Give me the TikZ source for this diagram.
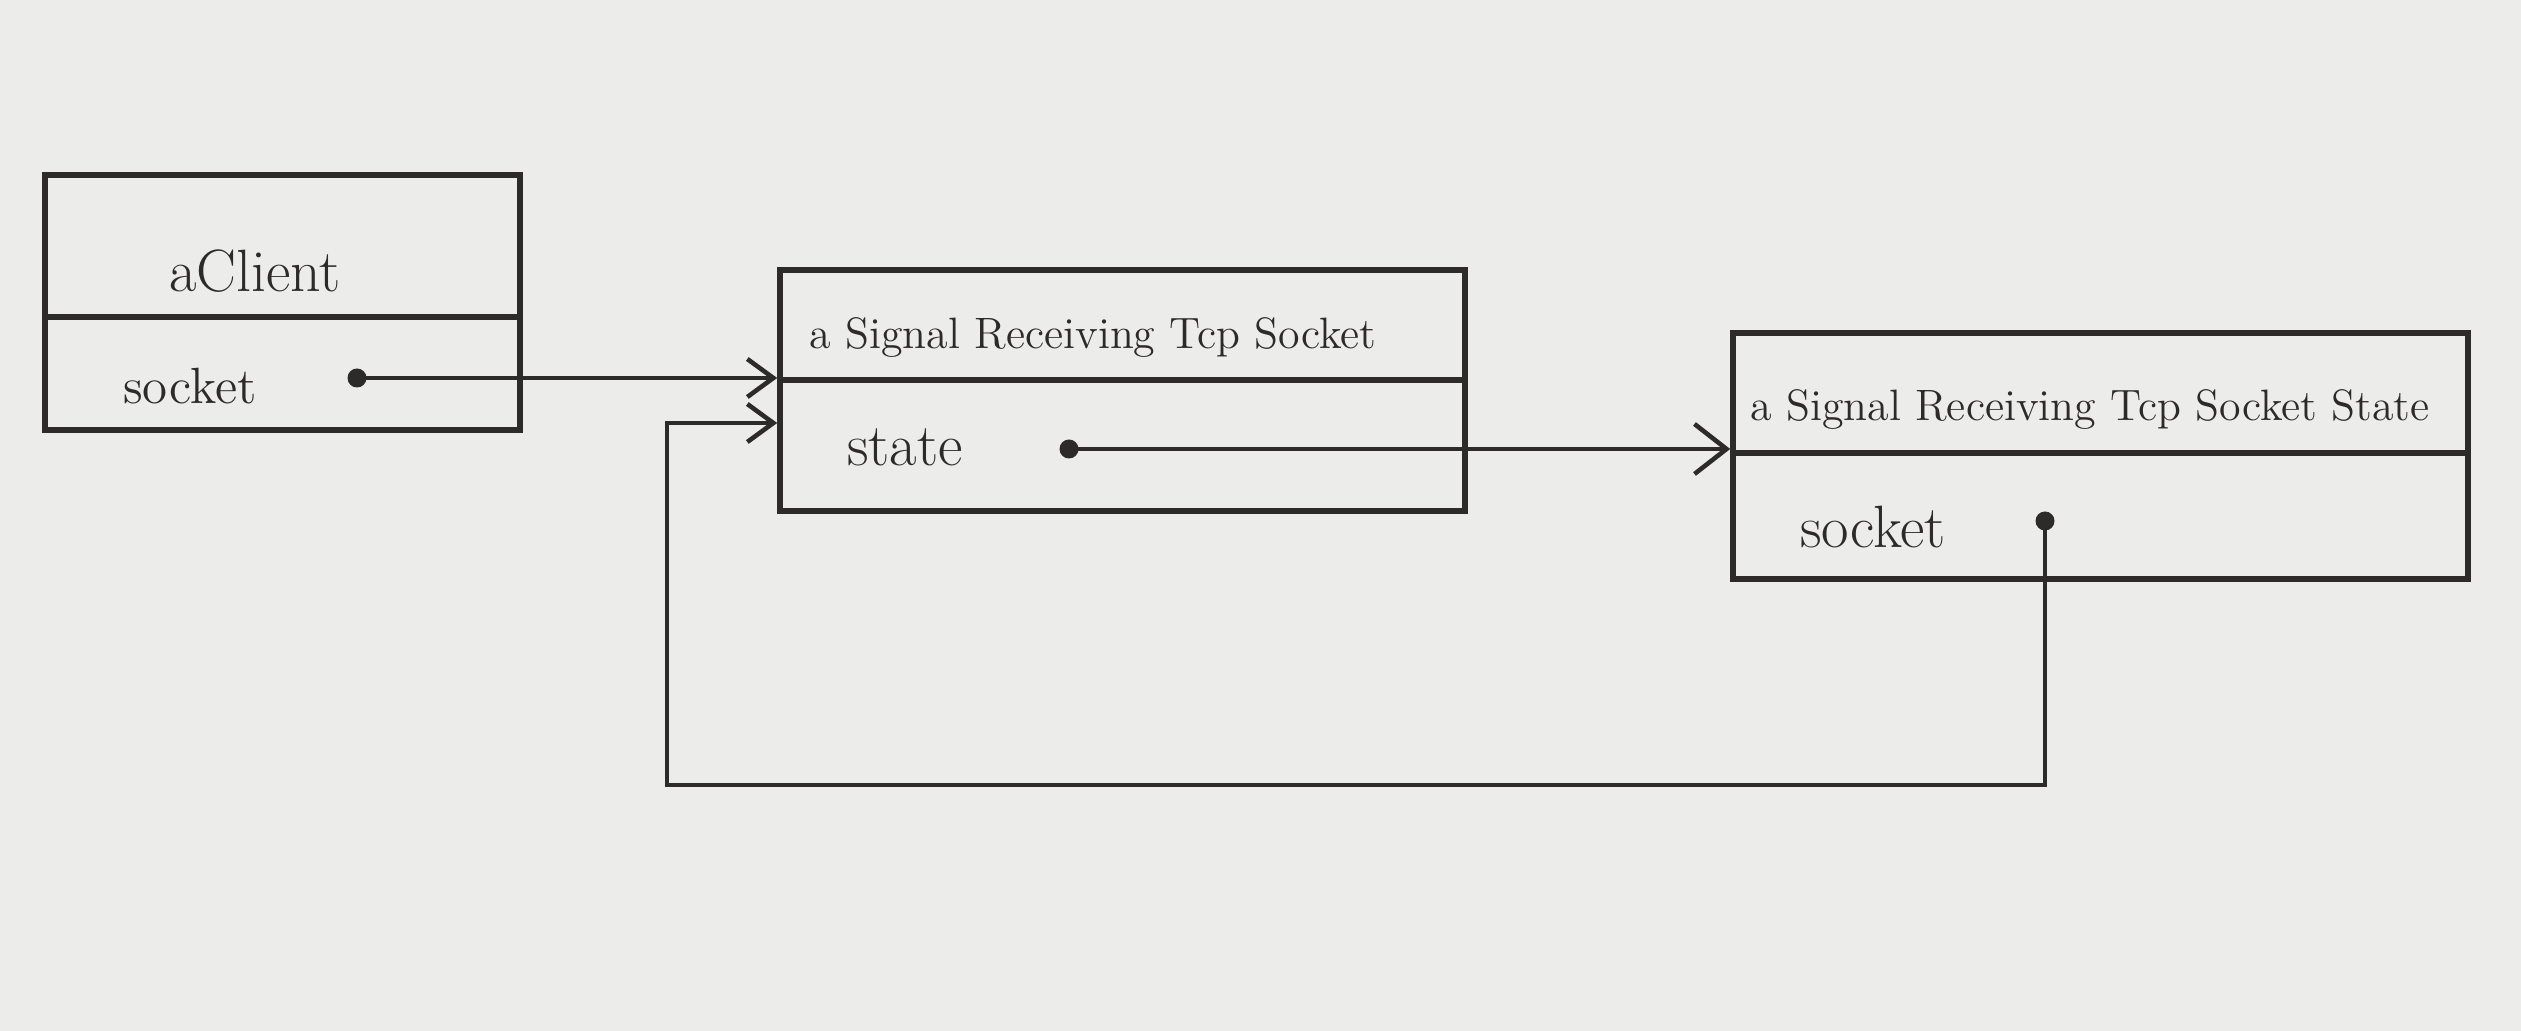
\documentclass[tikz,border=0pt]{standalone}
\usetikzlibrary{arrows.meta}
\definecolor{paper}{RGB}{236,236,234}
\definecolor{ink}{RGB}{45,42,42}
\tikzset{
 objbox/.style={draw=ink,line width=1.6pt,inner sep=0pt},
 divline/.style={draw=ink,line width=1.6pt},
 slot/.style={circle,fill=ink,inner sep=0pt,minimum size=1.9mm},
 ref/.style={draw=ink,line width=1.3pt,-{Straight Barb[length=2.6mm,width=3.8mm,line width=1.3pt]}},
 bigtext/.style={text=ink,font=\fontsize{17}{20}\selectfont},
 smalltext/.style={text=ink,font=\fontsize{12.5}{15}\selectfont}
}
\begin{document}
\begin{tikzpicture}
 \fill[paper] (0,0) rectangle (25.21,10.31);
 \useasboundingbox (0,0) rectangle (25.21,10.31);
 \node[objbox,minimum width=4.75cm,minimum height=2.55cm] (client) at (2.825,7.285) {};
 \node[objbox,minimum width=6.85cm,minimum height=2.41cm] (sock) at (11.225,6.405) {};
 \node[objbox,minimum width=7.35cm,minimum height=2.46cm] (state) at (21.005,5.75) {};
 \draw[divline] ([yshift=-1.45cm]client.north west) -- ([yshift=-1.45cm]client.north east);
 \draw[divline] ([yshift=-1.13cm]sock.north west) -- ([yshift=-1.13cm]sock.north east);
 \draw[divline] ([yshift=-1.23cm]state.north west) -- ([yshift=-1.23cm]state.north east);
 \node[bigtext] (clientname) at (2.55,7.6) {aClient};
 \node[bigtext,font=\fontsize{14.5}{17}\selectfont] (clientfield) at (1.9,6.45) {socket};
 \node[slot] (clientdot) at (3.57,6.53) {};
 \node[smalltext] (sockname) at (10.93,6.93) {a Signal Receiving Tcp Socket};
 \node[bigtext] (sockfield) at (9.05,5.84) {state};
 \node[slot] (sockdot) at (10.69,5.82) {};
 \node[smalltext] (statename) at (20.9,6.21) {a Signal Receiving Tcp Socket State};
 \node[bigtext] (statefield) at (18.73,5.04) {socket};
 \node[slot] (statedot) at (20.45,5.10) {};
 \draw[ref] (clientdot.center) -- (clientdot -| sock.west);
 \draw[ref,-{Straight Barb[length=3.2mm,width=5mm,line width=1.3pt]}] (sockdot.center) -- (sockdot -| state.west);
 \coordinate (loopfoot) at (6.67,2.46);
 \coordinate (loophead) at (6.67,6.08);
 \draw[ref] (statedot.center) |- (loopfoot) -- (loophead) -- (loophead -| sock.west);
\end{tikzpicture}
\end{document}
